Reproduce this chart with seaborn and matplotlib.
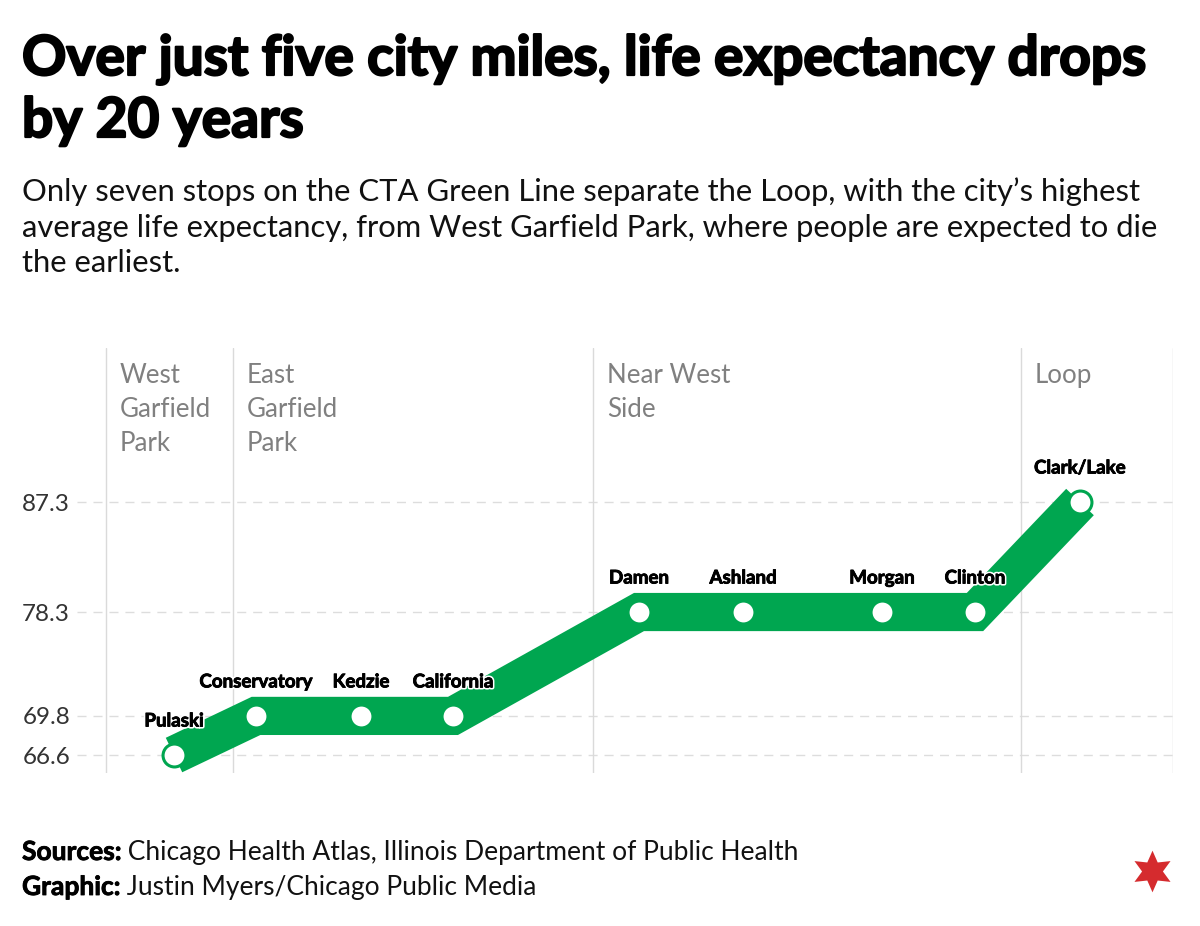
import matplotlib
matplotlib.use('Agg')
import matplotlib.pyplot as plt
import matplotlib.patheffects as pe
from matplotlib.lines import Line2D
import pandas as pd
import seaborn as sns

# station positions along the line (arbitrary units) and life expectancy
STATIONS = ['Pulaski', 'Conservatory', 'Kedzie', 'California', 'Damen',
            'Ashland', 'Morgan', 'Clinton', 'Clark/Lake']
POSITION = [97, 179, 284, 376, 562, 666, 805, 898, 1003]
LIFE_EXP = [66.6, 69.8, 69.8, 69.8, 78.3, 78.3, 78.3, 78.3, 87.3]

Y_TICKS = [66.6, 69.8, 78.3, 87.3]

# neighborhood boundaries (same units as POSITION)
BOUNDS = [29, 156, 516, 944, 1096]
HOODS = ['West\nGarfield\nPark', 'East\nGarfield\nPark', 'Near West\nSide', 'Loop']
HOOD_START = [29, 156, 516, 944]

GREEN = '#00A650'
GRAY_TXT = '#808080'
GRID = '#dddddd'
FONT = ['Lato', 'DejaVu Sans']

sns.set_theme(style='white')
plt.rcParams['font.family'] = FONT
plt.rcParams['text.color'] = 'black'

W, H = 1200, 926
fig = plt.figure(figsize=(W / 100, H / 100), dpi=100)


def fx(px):
    return px / W


def fy(py):
    return 1 - py / H


ax = fig.add_axes([fx(77), fy(773), fx(1173) - fx(77), fy(348) - fy(773)])

df = pd.DataFrame({'station': STATIONS, 'pos': POSITION, 'life': LIFE_EXP})

for b in BOUNDS:
    ax.axvline(b, color='#dadada', lw=1, zorder=1)

for t in Y_TICKS:
    ax.axhline(t, color=GRID, lw=1, dashes=(6.5, 5), zorder=0.5)

sns.lineplot(data=df, x='pos', y='life', ax=ax, color=GREEN, lw=27.5,
             solid_capstyle='butt', solid_joinstyle='miter', sort=False, zorder=3)
ax.plot(df['pos'], df['life'], ls='none', marker='o', ms=16.5,
        mfc='white', mec=GREEN, mew=2.2, zorder=4)

for name, x, y in zip(STATIONS, POSITION, LIFE_EXP):
    ax.annotate(name, (x, y), xytext=(0, 24.5), textcoords='offset points',
                ha='center', va='center', fontsize=13.5, fontweight='bold',
                color='black', zorder=5,
                path_effects=[pe.withStroke(linewidth=3, foreground='white'),
                              pe.withStroke(linewidth=0.6, foreground='black')])

for name, x0 in zip(HOODS, HOOD_START):
    ax.text(x0 + 14, 0.965, name, transform=ax.get_xaxis_transform(),
            ha='left', va='top', fontsize=18.6, color=GRAY_TXT, linespacing=1.46)

ax.set_xlim(0, 1096)
ax.set_ylim(65.13, 99.9)
ax.set_yticks(Y_TICKS)
ax.set_yticklabels([f'{t:.1f}' for t in Y_TICKS])
ax.tick_params(axis='y', length=0, pad=5, labelsize=17.5, labelcolor='#333333')
ax.set_xticks([])
ax.set_xlabel('')
ax.set_ylabel('')
for s in ax.spines.values():
    s.set_visible(False)

# title and subtitle
heavy = [pe.withStroke(linewidth=1.6, foreground='black')]
fig.text(fx(22), fy(75), 'Over just five city miles, life expectancy drops',
         fontsize=39.6, fontweight='bold', va='baseline', ha='left', path_effects=heavy)
fig.text(fx(22), fy(137), 'by 20 years',
         fontsize=39.6, fontweight='bold', va='baseline', ha='left', path_effects=heavy)
sub = ['Only seven stops on the CTA Green Line separate the Loop, with the city\u2019s highest',
       'average life expectancy, from West Garfield Park, where people are expected to die',
       'the earliest.']
for line, by in zip(sub, [201, 237, 272]):
    fig.text(fx(22), fy(by), line, fontsize=22.3, va='baseline', ha='left', color='#111111')

# footer
renderer = fig.canvas.get_renderer()
for lab, txt, by in [('Sources:', ' Chicago Health Atlas, Illinois Department of Public Health', 860),
                     ('Graphic:', ' Justin Myers/Chicago Public Media', 895)]:
    t = fig.text(fx(22), fy(by), lab, fontsize=19, fontweight='bold', va='baseline', ha='left',
                 path_effects=[pe.withStroke(linewidth=0.6, foreground='black')])
    bb = t.get_window_extent(renderer)
    fig.text(bb.x1 / W, fy(by), txt, fontsize=19, va='baseline', ha='left', color='#111111')

fig.add_artist(Line2D([fx(1152)], [fy(871)], marker=(6, 1, 0), ms=30,
                      color='#D52B2E', mec='none', transform=fig.transFigure))

fig.savefig('out.png', dpi=100, facecolor='white')
